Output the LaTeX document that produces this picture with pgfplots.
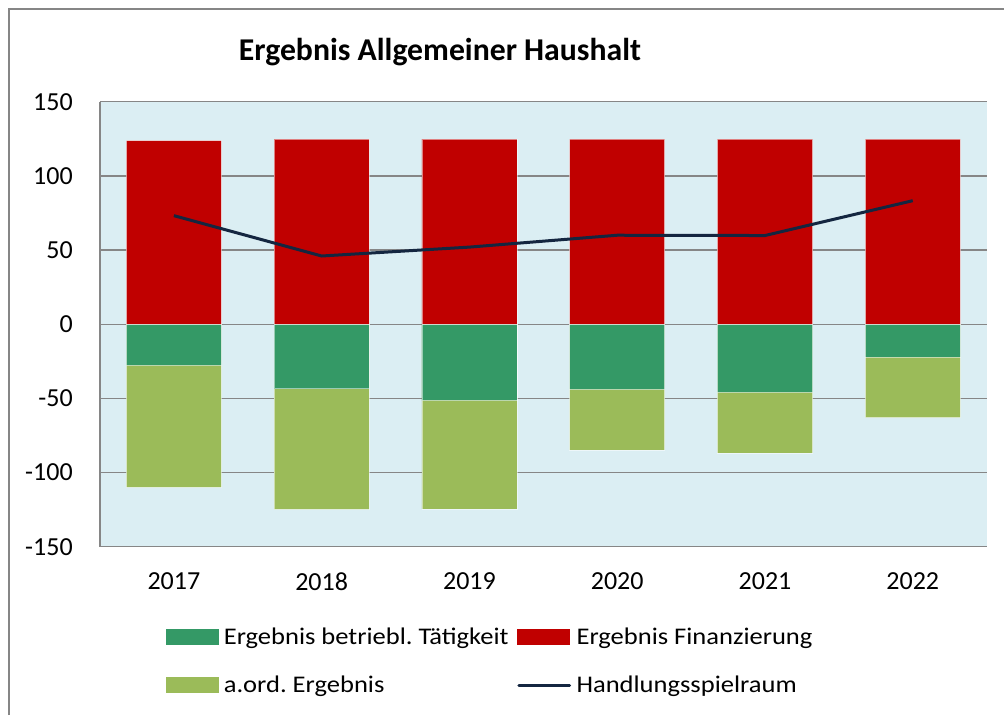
\documentclass[border=0pt]{standalone}
\usepackage{fontspec}
\setmainfont{Carlito}
\usepackage{graphicx}
\usepackage{pgfplots}
\usepackage{pgfplotstable}
\pgfplotsset{compat=1.18}
\frenchspacing
\definecolor{cred}{RGB}{192,0,0}
\definecolor{cgreen}{RGB}{52,153,102}
\definecolor{clight}{RGB}{155,187,89}
\definecolor{cline}{RGB}{20,38,64}
\definecolor{cbg}{RGB}{219,238,243}
\definecolor{cgrid}{RGB}{134,134,134}
\newcommand{\legtxt}[1]{\scalebox{1}[0.9]{#1}}
\pgfplotstableread{
x fin betr aord hsr
0 123.8 -27.7 -82.3 73.2
1 124.8 -43.5 -81.3 46.0
2 124.8 -51.4 -73.1 52.0
3 124.8 -43.9 -40.8 60.0
4 124.8 -45.9 -40.8 59.8
5 124.8 -22.1 -40.9 83.3
}\data
\begin{document}
\begin{tikzpicture}
\path[use as bounding box] (0,0) rectangle (753pt,536.25pt);
\draw[cgrid, line width=1pt] (6.75pt,0pt) -- (6.75pt,529.5pt) -- (753pt,529.5pt);
\node[font=\fontsize{23.8}{26}\selectfont\bfseries, inner sep=0pt] at (330pt,497.25pt) {Ergebnis Allgemeiner Haushalt};
\begin{axis}[
  at={(75pt,126.2pt)}, anchor=south west,
  scale only axis, width=665pt, height=333.75pt,
  xmin=-0.5, xmax=5.5, ymin=-150, ymax=150,
  enlargelimits=false,
  xtick={0,1,2,3,4,5},
  xticklabels={2017,2018,2019,2020,2021,2022},
  ytick={-150,-100,-50,0,50,100,150},
  yticklabels={-150,-100,-50,0,50,100,150},
  major tick length=0pt,
  axis x line*=bottom, axis y line*=left,
  axis line style={cgrid, line width=1.1pt},
  ymajorgrids, major grid style={cgrid, line width=1.1pt},
  axis background/.style={fill=cbg},
  tick label style={font=\fontsize{19.5}{21}\selectfont, inner sep=0pt},
  xticklabel style={anchor=north, yshift=-19.4pt},
  yticklabel style={anchor=east, xshift=-20.25pt},
  bar width=0.643,
  legend columns=2,
  legend cell align=left,
  legend style={draw=none, fill=none, inner sep=0pt, outer sep=0pt,
    at={(axis description cs:0.0744,-0.2569)}, anchor=west,
    font=\fontsize{19.9}{21}\selectfont,
    nodes={inner sep=0pt, text height=11.5pt, text depth=0pt},
    column sep=4pt, row sep=24.5pt,
    /tikz/every even column/.append style={column sep=6.5pt}},
]
\addplot[ybar, bar shift=0pt, fill=clight, draw=white, draw opacity=0.5, line width=0.5pt, forget plot]
  table[x=x, y expr=\thisrow{betr}+\thisrow{aord}] {\data};
\addplot[ybar, bar shift=0pt, fill=cgreen, draw=white, draw opacity=0.5, line width=0.5pt, forget plot]
  table[x=x, y=betr] {\data};
\addplot[ybar, bar shift=0pt, fill=cred, draw=white, draw opacity=0.5, line width=0.5pt, forget plot]
  table[x=x, y=fin] {\data};
\addplot[sharp plot, no marks, cline, line width=2.25pt, forget plot]
  table[x=x, y=hsr] {\data};
\addlegendimage{legend image code/.code={\fill[cgreen] (0pt,-5.6pt) rectangle (39pt,5.6pt);}}
\addlegendentry{\legtxt{Ergebnis betriebl. Tätigkeit}}
\addlegendimage{legend image code/.code={\fill[cred] (0pt,-5.6pt) rectangle (39pt,5.6pt);}}
\addlegendentry{\legtxt{Ergebnis Finanzierung}}
\addlegendimage{legend image code/.code={\fill[clight] (0pt,-5.6pt) rectangle (39pt,5.6pt);}}
\addlegendentry{\legtxt{a.ord. Ergebnis}}
\addlegendimage{legend image code/.code={\draw[cline, line width=2.25pt, line cap=round] (0.8pt,0pt) -- (39pt,0pt);}}
\addlegendentry{\legtxt{Handlungsspielraum}}
\end{axis}
\end{tikzpicture}
\end{document}
